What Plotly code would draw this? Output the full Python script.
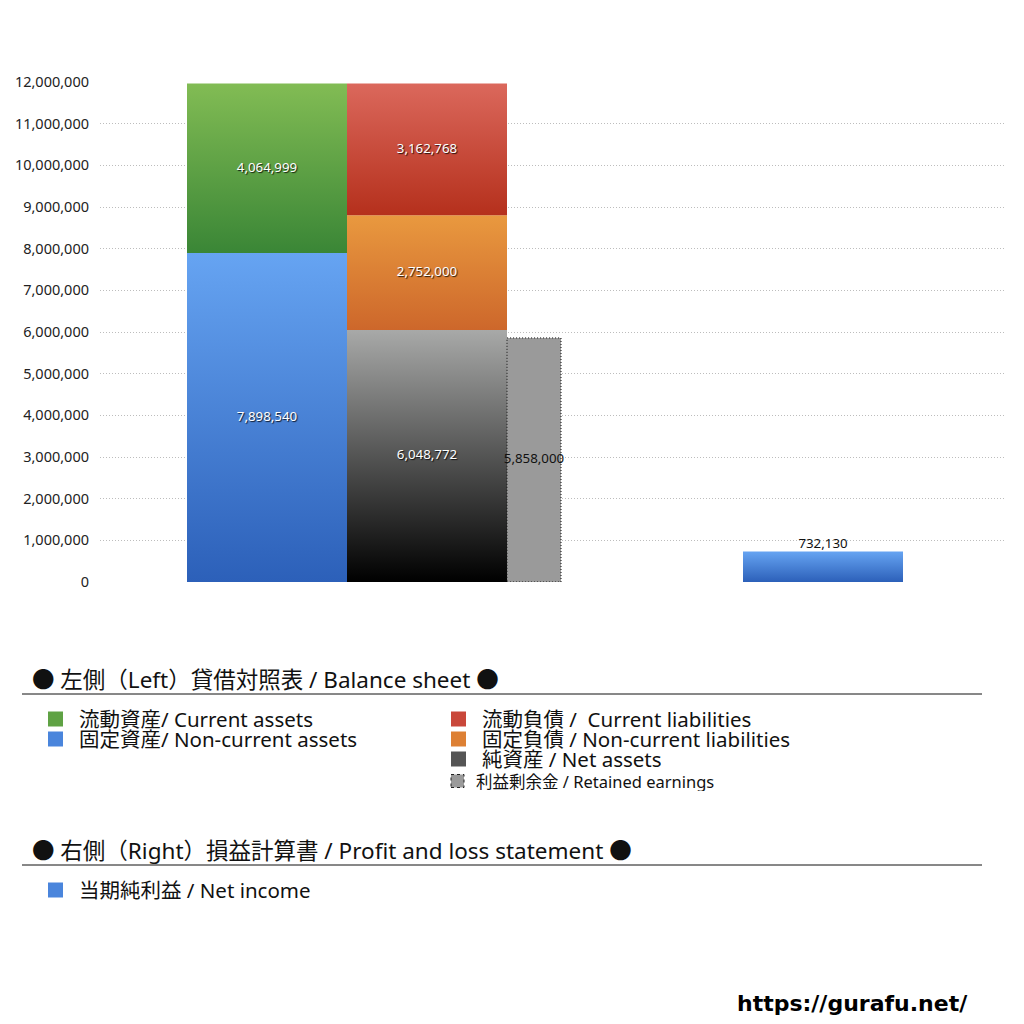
import plotly.graph_objects as go

# Balance sheet / P&L values (yen)
asset_names = ['固定資産/ Non-current assets', '流動資産/ Current assets']
asset_values = [7898540, 4064999]
liab_names = ['純資産 / Net assets', '固定負債 / Non-current liabilities', '流動負債 /  Current liabilities']
liab_values = [6048772, 2752000, 3162768]
retained_name = '利益剰余金 / Retained earnings'
retained_value = 5858000
income_name = '当期純利益 / Net income'
income_value = 732130

y_ticks = list(range(0, 12000001, 1000000))

# gradient colours (bottom, top)
BLUE = ('#2c60b9', '#66a4f2')
GREEN = ('#3a8636', '#82bc54')
BLACK = ('#000000', '#a8a9a8')
ORANGE = ('#cd672b', '#e9993f')
RED = ('#b5301c', '#db685c')

FONT = 'Noto Sans, Noto Sans CJK JP'

# page geometry (pixels of the 1024x1024 page)
L, R, T, B = 100, 1005, 82, 582
W = 1024


def px(x):
    return (x - L) / (R - L)


def py(y):
    return (B - y) / (B - T)


fig = go.Figure()


def grad_bar(x0, x1, base, value, colors, name):
    top = base + value
    fig.add_trace(go.Scatter(
        x=[x0, x1, x1, x0, x0],
        y=[base, base, top, top, base],
        mode='none', fill='toself',
        fillgradient=dict(type='vertical',
                          colorscale=[[0, colors[0]], [1, colors[1]]]),
        name=name, hoverinfo='name', showlegend=False,
    ))


def label(x, y, value, color='white', shadow='1px 1px 1px rgba(0,0,0,0.8)'):
    fig.add_trace(go.Scatter(
        x=[x], y=[y], mode='text', text=[f'{value:,}'],
        textfont=dict(family=FONT, size=13.3, color=color, shadow=shadow),
        hoverinfo='skip', showlegend=False,
    ))


# left side: assets
base = 0
for name, val, col in zip(asset_names, asset_values, [BLUE, GREEN]):
    grad_bar(187, 347, base, val, col, name)
    label(267, base + val / 2, val)
    base += val

# right side: liabilities + net assets
base = 0
for name, val, col in zip(liab_names, liab_values, [BLACK, ORANGE, RED]):
    grad_bar(347, 507, base, val, col, name)
    label(427, base + val / 2, val)
    base += val

# retained earnings (dotted outline)
fig.add_trace(go.Scatter(
    x=[507, 561, 561, 507, 507],
    y=[0, 0, retained_value, retained_value, 0],
    mode='lines', fill='toself', fillcolor='#9a9a9a',
    line=dict(color='#111', width=1, dash='1px,2px'),
    name=retained_name, hoverinfo='name', showlegend=False,
))
label(534, retained_value / 2, retained_value, color='#111', shadow='none')

# P&L: net income
grad_bar(743, 903, 0, income_value, BLUE, income_name)
fig.add_trace(go.Scatter(
    x=[823], y=[income_value], mode='text', text=[f'{income_value:,}'],
    textposition='top center',
    textfont=dict(family=FONT, size=13.3, color='#111'),
    hoverinfo='skip', showlegend=False,
))

# custom legend
annotations = []
shapes = []


def header(y, text):
    annotations.append(dict(
        xref='paper', yref='paper', x=px(30), y=py(y), text=text,
        showarrow=False, xanchor='left', yanchor='middle',
        font=dict(family=FONT, size=22.5, color='#111'),
    ))
    shapes.append(dict(
        type='line', xref='paper', yref='paper',
        x0=px(22), x1=px(982), y0=py(y + 15), y1=py(y + 15),
        line=dict(color='#111', width=1),
    ))


def item(x, y, text, color, size=20.5, dotted=False):
    s = 15 if not dotted else 13
    shapes.append(dict(
        type='rect', xref='paper', yref='paper',
        x0=px(x), x1=px(x + s), y0=py(y + s / 2), y1=py(y - s / 2),
        fillcolor=color,
        line=dict(color='#222', width=1, dash='dot') if dotted else dict(width=0),
    ))
    annotations.append(dict(
        xref='paper', yref='paper', x=px(x + (29 if not dotted else 23)), y=py(y), text=text,
        showarrow=False, xanchor='left', yanchor='middle', height=20,
        font=dict(family=FONT, size=size, color='#111'),
    ))


header(679, '● 左側（Left）貸借対照表 / Balance sheet ●')
item(48, 719, asset_names[1], '#5fa244')
item(48, 739, asset_names[0], '#4a85dc')
item(451, 719, liab_names[2], '#c9473a')
item(451, 739, liab_names[1], '#dd8034')
item(451, 759, liab_names[0], '#555555')
item(451, 781, retained_name, '#9a9a9a', size=16.5, dotted=True)

header(850, '● 右側（Right）損益計算書 / Profit and loss statement ●')
item(48, 890, income_name, '#4a85dc')

annotations.append(dict(
    xref='paper', yref='paper', x=px(970), y=py(1004),
    text='<b>https://gurafu.net/</b>', showarrow=False,
    xanchor='right', yanchor='middle',
    font=dict(family='DejaVu Sans', size=22, color='#000'),
))

fig.update_layout(
    width=W, height=W,
    margin=dict(l=L, r=W - R, t=T, b=W - B),
    paper_bgcolor='white', plot_bgcolor='white',
    showlegend=False,
    xaxis=dict(range=[L, R], visible=False, fixedrange=True),
    yaxis=dict(
        range=[0, 12000000], tickvals=y_ticks, tickformat=',',
        showgrid=True, gridcolor='#bdbdbd', griddash='1px,2px', gridwidth=1,
        zeroline=False, showline=False, ticks='', ticklabelstandoff=10,
        tickfont=dict(family=FONT, size=14.5, color='#222'),
    ),
    annotations=annotations,
    shapes=shapes,
)

# drop the browser's default body margin so the figure sits at the page origin
fig.write_html('out.html', config={'displayModeBar': False},
               post_script="document.body.style.margin='0';")
